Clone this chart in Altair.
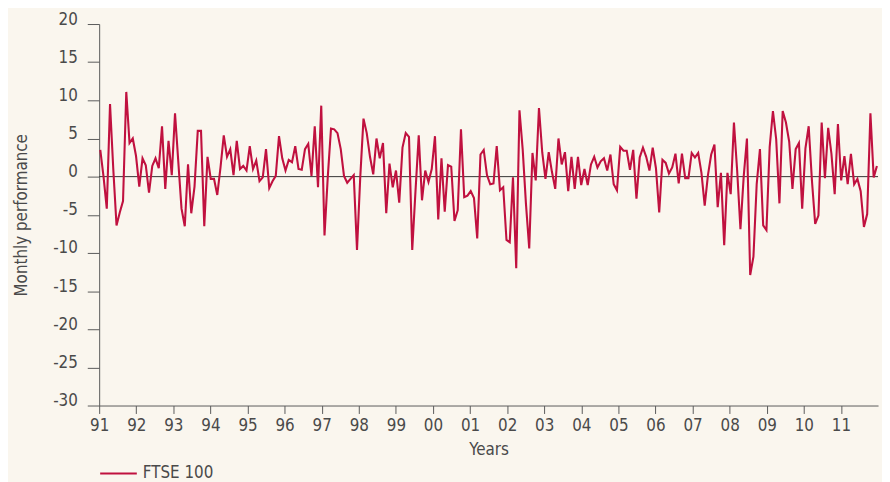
import altair as alt
import pandas as pd

# Monthly FTSE 100 performance (%)
monthly_performance = [
    3.5, 0.0, -4.2, 9.5, 1.0, -6.4, -4.7, -3.2, 11.1, 4.4, 5.0, 2.7,
    -1.3, 2.4, 1.5, -2.1, 1.4, 2.4, 1.1, 6.6, -1.6, 4.7, 0.2, 8.3,
    2.0, -4.2, -6.5, 1.6, -4.8, -1.3, 6.0, 6.0, -6.5, 2.6, -0.3, -0.3,
    -2.4, 1.2, 5.4, 2.6, 3.6, 0.2, 4.7, 1.0, 1.4, 0.8, 4.0,
    1.0, 2.1, -0.6, -0.1, 3.6, -1.5, -0.6, 0.1, 5.3, 2.4, 0.8, 2.2,
    1.9, 4.0, 1.0, 0.9, 3.6, 4.3, 0.1, 6.6, -1.4, 9.3,
    -7.7, -0.1, 6.3, 6.2, 5.7, 3.6, 0.1, -0.8, -0.3, 0.2, -9.6, -0.1,
    7.6, 5.7, 2.6, 0.3, 5.0, 2.4, 4.4, -4.8, 1.7, -1.4, 0.8,
    -3.4, 3.8, 5.7, 5.2, -9.6, -1.9, 5.4, -3.1, 0.8, -0.7, 1.0, 5.3,
    -5.6, 2.4, -4.6, 1.5, 1.3, -5.8, -4.4, 6.2, -2.7, -2.5, -1.9,
    -2.8, -8.1, 2.9, 3.5, 0.2, -1.0, -0.9, 4.0, -1.8, -1.4, -8.3, -8.6,
    -0.1, -12.0, 8.7, 3.5, -3.6, -9.4, 3.1, -0.5, 9.0, 3.2, -0.3,
    3.2, 0.6, -1.6, 5.0, 1.6, 3.2, -1.9, 2.6, -1.6, 2.6, -1.1, 1.0,
    -1.1, 1.6, 2.6, 1.2, 2.0, 2.4, 0.8, 2.9, -1.0, -1.8, 3.9,
    3.4, 3.4, 0.9, 3.5, -2.9, 2.5, 3.8, 2.6, 0.8, 3.8, 1.1, -4.7,
    2.2, 1.8, 0.4, 1.2, 3.0, -0.9, 3.0, -0.2, -0.2, 3.1, 2.5,
    3.1, 0.5, -3.8, 0.2, 2.9, 4.2, -4.0, 0.5, -9.0, 0.5, -2.3, 7.1,
    0.7, -6.9, 0.0, 5.0, -12.9, -10.5, -1.0, 3.6, -6.4, -7.0, 3.9,
    8.6, 4.9, -3.5, 8.6, 7.1, 4.6, -1.6, 3.6, 4.4, -4.2, 3.7, 6.6,
    -0.5, -6.2, -5.1, 7.1, -0.2, 6.4, 3.0, -2.3, 6.9, -0.5, 2.7,
    -1.0, 3.0, -1.0, -0.3, -1.9, -6.6, -4.9, 8.3, -0.1, 1.4,
]

first_year = 1991.03
last_year = 2011.97
n = len(monthly_performance)
step = (last_year - first_year) / (n - 1)
time_axis = [first_year + i * step for i in range(n)]

tick_years = list(range(1991, 2012))
y_ticks = list(range(-30, 25, 5))
series_name = "FTSE 100"

df = pd.DataFrame({"t": time_axis, "v": monthly_performance, "series": series_name})
zero_df = pd.DataFrame({"v": [0]})

FONT = "Liberation Sans Narrow, DejaVu Sans Condensed, Roboto, sans-serif"
TXT = "#4a4a4a"
AX = "#5a5a5a"
RED = "#c0113f"

y_scale = alt.Scale(domain=[-30, 20], nice=False, zero=False)
y_axis = alt.Axis(
    values=y_ticks,
    labelExpr="toString(datum.value)",
    labelOverlap=False,
    labelFlush=False,
    title="Monthly performance",
    grid=False,
    tickSize=12,
    labelPadding=10,
    labelBaseline="alphabetic",
    titlePadding=22,
)

zero = alt.Chart(zero_df).mark_rule(color="#333333", strokeWidth=1).encode(
    y=alt.Y("v:Q", scale=y_scale, axis=y_axis)
)

line = alt.Chart(df).mark_line(strokeWidth=2.1, strokeJoin="miter").encode(
    x=alt.X(
        "t:Q",
        scale=alt.Scale(domain=[1991, 2012], nice=False, zero=False),
        axis=alt.Axis(
            values=tick_years,
            labelExpr="substring(toString(datum.value), 2, 4)",
            labelFlush=False,
            labelOverlap=False,
            title="Years",
            grid=False,
            tickSize=8,
            labelPadding=4,
            titlePadding=8,
        ),
    ),
    y=alt.Y("v:Q", scale=y_scale, axis=y_axis),
    color=alt.Color(
        "series:N",
        scale=alt.Scale(domain=[series_name], range=[RED]),
        legend=alt.Legend(
            title=None,
            orient="none",
            legendX=0,
            legendY=434,
            symbolType="stroke",
            symbolSize=1369,
            symbolStrokeWidth=2,
            labelOffset=5,
            padding=0,
        ),
    ),
)

chart = (
    alt.layer(zero, line)
    .properties(
        width=786,
        height=385,
        autosize="none",
        padding={"left": 92, "top": 14, "right": 4, "bottom": 75},
        background="#faf6ee",
    )
    .configure_view(stroke=None)
    .configure_axis(
        domainColor=AX,
        tickColor=AX,
        domainWidth=1,
        tickWidth=1,
        labelColor=TXT,
        titleColor=TXT,
        labelFont=FONT,
        titleFont=FONT,
        labelFontSize=17,
        titleFontSize=17,
        titleFontWeight="normal",
    )
    .configure_legend(labelFont=FONT, labelFontSize=17, labelColor=TXT)
)

chart.save("out.html", embed_options={"renderer": "svg", "actions": False})
